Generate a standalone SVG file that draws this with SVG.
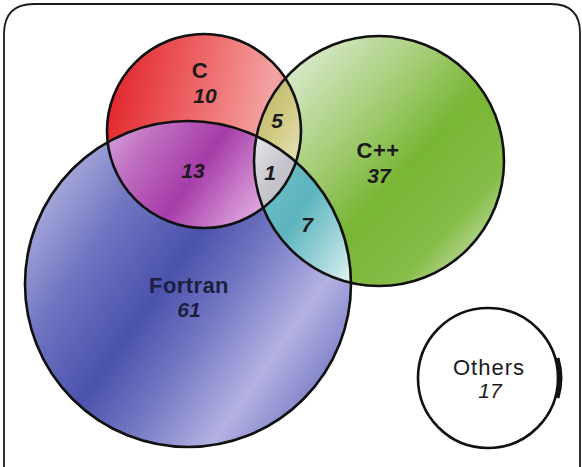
<svg xmlns="http://www.w3.org/2000/svg" width="582" height="467" viewBox="0 0 582 467">
  <style>
    .outline { fill: none; stroke: #111; stroke-width: 2.6; }
    .frame { fill: none; stroke: #1a1a1a; stroke-width: 1.8; }
    .lbl { font-family: "Liberation Sans", Arial, Helvetica, sans-serif; font-size: 22px; font-weight: bold; fill: #1a1a1a; text-anchor: middle; letter-spacing: 0.4px; }
    .num { font-family: "Liberation Sans", Arial, Helvetica, sans-serif; font-size: 21px; font-weight: bold; font-style: italic; fill: #1a1a1a; text-anchor: middle; }
    .plain { font-weight: normal; letter-spacing: 1px; }
  </style>
  <defs>
    <clipPath id="clipC"><circle cx="204" cy="131" r="97"/></clipPath>
    <clipPath id="clipF"><circle cx="188" cy="284" r="163"/></clipPath>
    <clipPath id="clipP"><circle cx="379" cy="161" r="125"/></clipPath>

    <linearGradient id="gC" x1="0" y1="0.4" x2="1" y2="0.6">
      <stop offset="0" stop-color="#e2282e"/>
      <stop offset="0.45" stop-color="#ee6a6c"/>
      <stop offset="0.8" stop-color="#f3a3a3"/>
      <stop offset="1" stop-color="#f08686"/>
    </linearGradient>
    <linearGradient id="gP" x1="0.1" y1="0.05" x2="0.95" y2="0.85">
      <stop offset="0" stop-color="#e4efdc"/>
      <stop offset="0.35" stop-color="#a8cf7c"/>
      <stop offset="0.6" stop-color="#78b634"/>
      <stop offset="0.85" stop-color="#86bd48"/>
      <stop offset="1" stop-color="#c2dca8"/>
    </linearGradient>
    <linearGradient id="gF" x1="0" y1="0.15" x2="1" y2="0.85">
      <stop offset="0" stop-color="#c0c0e4"/>
      <stop offset="0.25" stop-color="#7076c2"/>
      <stop offset="0.45" stop-color="#4a52ac"/>
      <stop offset="0.62" stop-color="#7a7ec6"/>
      <stop offset="0.78" stop-color="#b4b2e2"/>
      <stop offset="1" stop-color="#6268ba"/>
    </linearGradient>
    <linearGradient id="g13" x1="0" y1="0.2" x2="1" y2="0.9">
      <stop offset="0" stop-color="#e6cbe8"/>
      <stop offset="0.3" stop-color="#c070c0"/>
      <stop offset="0.55" stop-color="#a63ca8"/>
      <stop offset="0.8" stop-color="#d493d4"/>
      <stop offset="1" stop-color="#f0d2ee"/>
    </linearGradient>
    <linearGradient id="g5" x1="0" y1="0" x2="1" y2="1">
      <stop offset="0" stop-color="#b8b060"/>
      <stop offset="0.5" stop-color="#cfc980"/>
      <stop offset="1" stop-color="#ecebcc"/>
    </linearGradient>
    <linearGradient id="g1" x1="0" y1="0" x2="1" y2="1">
      <stop offset="0" stop-color="#ececf0"/>
      <stop offset="0.5" stop-color="#c6c4cc"/>
      <stop offset="1" stop-color="#b4b2ba"/>
    </linearGradient>
    <linearGradient id="g7" x1="0" y1="0" x2="1" y2="1">
      <stop offset="0" stop-color="#78c6cc"/>
      <stop offset="0.5" stop-color="#5db4be"/>
      <stop offset="0.85" stop-color="#b8e0e2"/>
      <stop offset="1" stop-color="#f2fafa"/>
    </linearGradient>
  </defs>

  <rect width="582" height="467" fill="#ffffff"/>

  <!-- open-bottomed rounded frame -->
  <path class="frame" d="M4,470 L4,34 Q4,4 34,4 L551,4 Q580,4 580,33 L580,470"/>

  <!-- set fills -->
  <g id="node-fortran">
    <circle cx="188" cy="284" r="163" fill="url(#gF)"/>
  </g>
  <g id="node-cpp">
    <circle cx="379" cy="161" r="125" fill="url(#gP)"/>
  </g>
  <g id="node-c">
    <circle cx="204" cy="131" r="97" fill="url(#gC)"/>
  </g>

  <!-- overlaps -->
  <g id="overlap-c-fortran" clip-path="url(#clipF)">
    <circle cx="204" cy="131" r="97" fill="url(#g13)"/>
  </g>
  <g id="overlap-c-cpp" clip-path="url(#clipC)">
    <g clip-path="url(#clipP)">
      <rect x="250" y="70" width="60" height="100" fill="url(#g5)"/>
    </g>
  </g>
  <g id="overlap-cpp-fortran" clip-path="url(#clipF)">
    <g clip-path="url(#clipP)">
      <rect x="250" y="130" width="105" height="155" fill="url(#g7)"/>
    </g>
  </g>
  <g id="overlap-all" clip-path="url(#clipF)">
    <g clip-path="url(#clipC)">
      <g clip-path="url(#clipP)">
        <rect x="250" y="130" width="55" height="85" fill="url(#g1)"/>
      </g>
    </g>
  </g>

  <!-- set outlines -->
  <g id="outlines">
    <circle class="outline" cx="188" cy="284" r="163"/>
    <circle class="outline" cx="379" cy="161" r="125"/>
    <circle class="outline" cx="204" cy="131" r="97"/>
  </g>

  <g id="node-others">
    <circle cx="488" cy="378" r="70" fill="#ffffff" stroke="#111" stroke-width="2.6"/>
    <path d="M557.6,358 A70,70 0 0 1 557.6,398" fill="none" stroke="#111" stroke-width="3.8"/>
    <text class="lbl plain" x="489" y="375">Others</text>
    <text class="num" style="font-weight:normal" x="490" y="398">17</text>
  </g>

  <!-- labels -->
  <g id="labels">
    <text class="lbl" x="200" y="78">C</text>
    <text class="num" x="205" y="103">10</text>
    <text class="num" x="193" y="178">13</text>
    <text class="num" x="277" y="128">5</text>
    <text class="num" x="270" y="180">1</text>
    <text class="lbl" x="378" y="158">C++</text>
    <text class="num" x="379" y="183">37</text>
    <text class="num" x="307" y="232">7</text>
    <text class="lbl" x="189" y="293" style="fill:#1c1f40">Fortran</text>
    <text class="num" x="189" y="317" style="fill:#1c1f40">61</text>
  </g>
</svg>
